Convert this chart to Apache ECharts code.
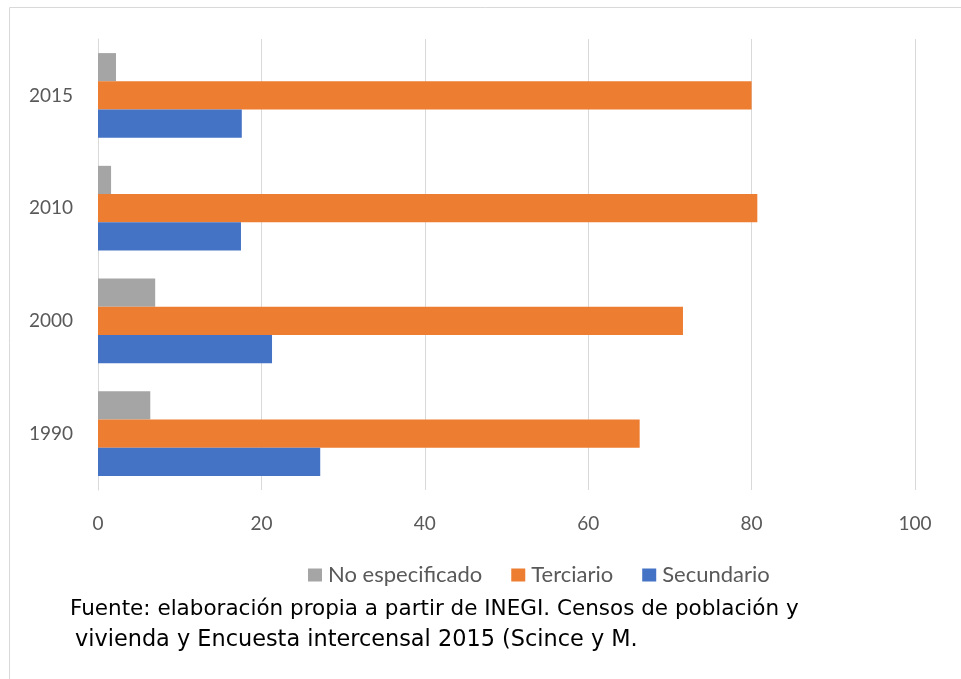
<!DOCTYPE html>
<html>
<head>
<meta charset="utf-8">
<script src="https://cdn.jsdelivr.net/npm/echarts@6/dist/echarts.min.js"></script>
<style>
  html, body { margin: 0; padding: 0; background: #fff; }
  #chart { width: 961px; height: 679px; }
</style>
</head>
<body>
<div id="chart"></div>
<script>
  // datos
  let years = ['1990', '2000', '2010', '2015'];
  let secundario = [27.2, 21.3, 17.5, 17.6];
  let terciario = [66.3, 71.6, 80.7, 80.0];
  let noEspecificado = [6.4, 7.0, 1.6, 2.2];
  let xTicks = [0, 20, 40, 60, 80, 100];

  let myChart = echarts.init(document.getElementById('chart'));

  let option = {
    animation: false,
    textStyle: {
      fontFamily: 'Lato'
    },
    color: ['#a5a5a5', '#ed7d31', '#4472c4'],
    grid: {
      left: 98,
      right: 46,
      top: 39,
      bottom: 189
    },
    legend: {
      data: ['No especificado', 'Terciario', 'Secundario'],
      top: 559,
      left: 303,
      itemWidth: 14,
      itemHeight: 13,
      itemGap: 29,
      icon: 'rect',
      textStyle: {
        fontSize: 22,
        color: '#595959',
        padding: [0, 0, 0, 1]
      }
    },
    xAxis: {
      type: 'value',
      min: xTicks[0],
      max: xTicks[xTicks.length - 1],
      interval: 20,
      axisLine: {show: false},
      axisTick: {show: false},
      axisLabel: {
        fontSize: 19,
        color: '#595959',
        margin: 24
      },
      splitLine: {
        lineStyle: {color: '#d9d9d9', width: 1}
      }
    },
    yAxis: {
      type: 'category',
      data: years,
      axisLine: {show: true, lineStyle: {color: '#d9d9d9'}},
      axisTick: {show: false},
      axisLabel: {
        fontSize: 19,
        color: '#595959',
        margin: 25
      }
    },
    // la primera serie queda arriba en cada grupo
    series: [{
      name: 'No especificado',
      type: 'bar',
      data: noEspecificado,
      barGap: '0%',
      barCategoryGap: '25%'
    }, {
      name: 'Terciario',
      type: 'bar',
      data: terciario
    }, {
      name: 'Secundario',
      type: 'bar',
      data: secundario
    }],
    graphic: [{
      type: 'rect',
      shape: {x: 9.5, y: 7.5, width: 970, height: 700},
      style: {fill: 'none', stroke: '#d9d9d9', lineWidth: 1}
    }, {
      type: 'text',
      left: 70,
      top: 598,
      style: {
        text: 'Fuente: elaboración propia a partir de INEGI. Censos de población y',
        fontSize: 21.5,
        fontFamily: 'DejaVu Sans',
        fill: '#000'
      }
    }, {
      type: 'text',
      left: 75,
      top: 629,
      style: {
        text: 'vivienda y Encuesta intercensal 2015 (Scince y M.',
        fontSize: 22.4,
        fontFamily: 'DejaVu Sans',
        fill: '#000'
      }
    }]
  };
  myChart.setOption(option);
</script>
</body>
</html>
